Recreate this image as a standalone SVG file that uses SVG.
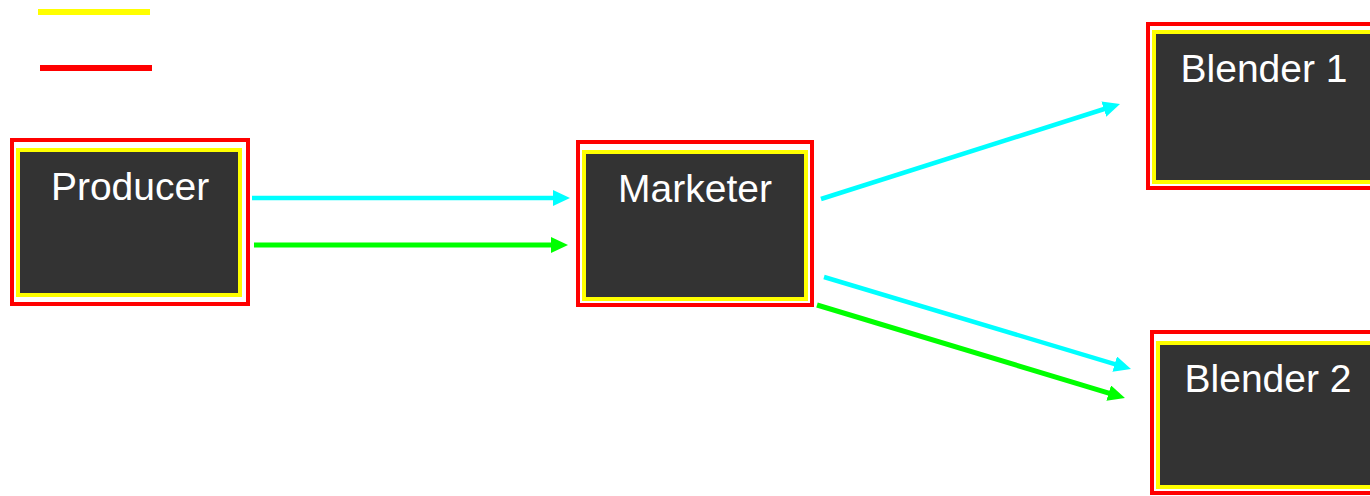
<svg xmlns="http://www.w3.org/2000/svg" width="1370" height="496" viewBox="0 0 1370 496">
<style>
.outer{fill:none;stroke:#ff0000;stroke-width:4}
.inner{fill:#333333;stroke:#ffff00;stroke-width:4}
.lbl{font-family:"Liberation Sans",Arial,sans-serif;font-size:39px;fill:#ffffff;text-anchor:middle}
.cy{stroke:#00ffff;stroke-width:4.5;fill:none}
.gr{stroke:#00ff00;stroke-width:5;fill:none}
</style>
<defs>
<marker id="ahC" markerUnits="userSpaceOnUse" markerWidth="17" markerHeight="16" refX="7" refY="8" orient="auto" viewBox="0 0 17 16"><path d="M0,0 L17,8 L0,16 z" fill="#00ffff"/></marker>
<marker id="ahG" markerUnits="userSpaceOnUse" markerWidth="17" markerHeight="16" refX="7" refY="8" orient="auto" viewBox="0 0 17 16"><path d="M0,0 L17,8 L0,16 z" fill="#00ff00"/></marker>
</defs>
<g id="legend">
<line x1="38" y1="12" x2="150" y2="12" stroke="#ffff00" stroke-width="6"/>
<line x1="40" y1="68" x2="152" y2="68" stroke="#ff0000" stroke-width="6"/>
</g>
<g id="producer">
<rect class="outer" x="12" y="140" width="236" height="164"/>
<rect class="inner" x="18" y="150" width="222" height="145"/>
<text class="lbl" x="130" y="200">Producer</text>
</g>
<g id="marketer">
<rect class="outer" x="578" y="142" width="234" height="163"/>
<rect class="inner" x="584" y="152" width="222" height="147"/>
<text class="lbl" x="695" y="202">Marketer</text>
</g>
<g id="blender1">
<rect class="outer" x="1148" y="24" width="234" height="164"/>
<rect class="inner" x="1154" y="32" width="222" height="150"/>
<text class="lbl" x="1264" y="82">Blender 1</text>
</g>
<g id="blender2">
<rect class="outer" x="1152" y="332" width="234" height="161"/>
<rect class="inner" x="1158" y="343" width="222" height="144"/>
<text class="lbl" x="1268" y="392">Blender 2</text>
</g>
<g id="connectors">
<line class="cy" x1="252" y1="198" x2="560" y2="198" marker-end="url(#ahC)"/>
<line class="gr" x1="254" y1="245" x2="558" y2="245" marker-end="url(#ahG)"/>
<line class="cy" x1="821" y1="199" x2="1110.5" y2="107" marker-end="url(#ahC)"/>
<line class="cy" x1="824" y1="277" x2="1121.4" y2="366.1" marker-end="url(#ahC)"/>
<line class="gr" x1="817" y1="305" x2="1115.4" y2="395.1" marker-end="url(#ahG)"/>
</g>
</svg>
